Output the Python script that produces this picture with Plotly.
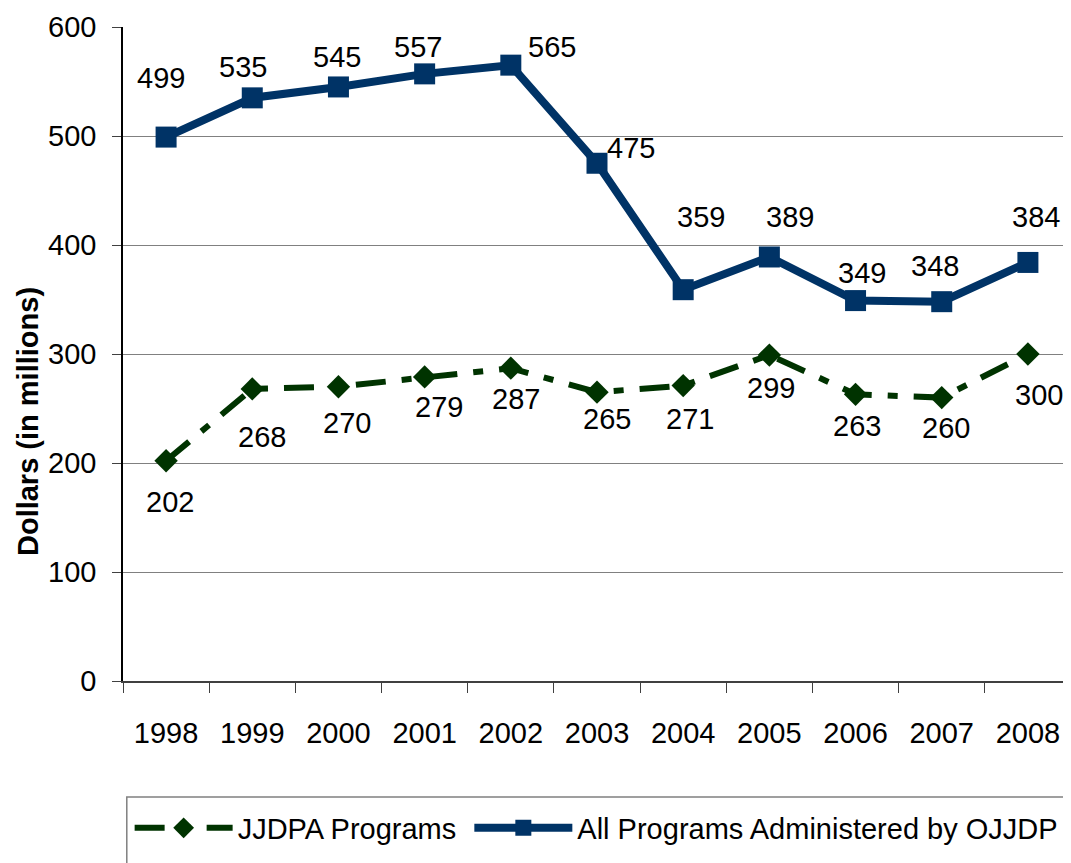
import plotly.graph_objects as go

years = ["1998", "1999", "2000", "2001", "2002", "2003", "2004", "2005", "2006", "2007", "2008"]
jjdpa = [202, 268, 270, 279, 287, 265, 271, 299, 263, 260, 300]
all_programs = [499, 535, 545, 557, 565, 475, 359, 389, 349, 348, 384]

# label offsets (px) to mimic the manual label placement of the original
blue_dx = [-5, -9, -1, -7, 41, 34, 18, 21, 6, -7, 8]
blue_dy = [59, 31, 30, 27, 18, 15, 73, 40, 28, 36, 45]
green_dx = [4, 10, 9, 14, 5, 10, 7, 2, 1, 4, 11]
green_dy = [-41, -48, -36, -30, -31, -27, -33, -33, -32, -30, -41]

BLUE = "#003366"
GREEN = "#003300"
FONT = "Liberation Sans, Arial, sans-serif"
FS = 29

fig = go.Figure()
fig.add_trace(go.Scatter(
    x=years, y=jjdpa, name="JJDPA Programs\u00a0", mode="lines+markers",
    line=dict(color=GREEN, width=6, dash="30px,16px,10px,16px"),
    marker=dict(symbol="diamond", size=18, color=GREEN),
))
fig.add_trace(go.Scatter(
    x=years, y=all_programs, name="All Programs Administered by OJJDP",
    mode="lines+markers",
    line=dict(color=BLUE, width=8),
    marker=dict(symbol="square", size=21, color=BLUE),
))

annotations = []
for i, (v, dx, dy) in enumerate(zip(all_programs, blue_dx, blue_dy)):
    annotations.append(dict(x=i, y=v, xref="x", yref="y", text=str(v), showarrow=False,
                            xanchor="center", yanchor="middle",
                            xshift=dx, yshift=dy, font=dict(size=FS, color="black", family=FONT)))
for i, (v, dx, dy) in enumerate(zip(jjdpa, green_dx, green_dy)):
    annotations.append(dict(x=i, y=v, xref="x", yref="y", text=str(v), showarrow=False,
                            xanchor="center", yanchor="middle",
                            xshift=dx, yshift=dy, font=dict(size=FS, color="black", family=FONT)))
annotations.append(dict(x=-0.1002, y=0.396, xref="paper", yref="paper", text="<b>Dollars (in millions)</b>",
                        textangle=-90, showarrow=False, xanchor="center", yanchor="middle",
                        font=dict(size=29, color="black", family=FONT)))

fig.update_layout(
    width=1063, height=855,
    margin=dict(l=115, r=0, t=19, b=182, autoexpand=False),
    paper_bgcolor="white", plot_bgcolor="white",
    font=dict(family=FONT, size=FS, color="black"),
    showlegend=True,
    legend=dict(orientation="h", x=0.007, xanchor="left", y=-0.2248, yanchor="middle",
                font=dict(size=29, family=FONT, color="black"),
                itemwidth=98, bgcolor="rgba(0,0,0,0)", traceorder="normal"),
    annotations=annotations,
    shapes=[dict(type="rect", xref="paper", yref="paper", x0=0.004, x1=1.02, y0=-0.1774, y1=-0.35,
                 line=dict(color="#808080", width=1.5), fillcolor="rgba(0,0,0,0)")],
    xaxis=dict(type="category", range=[-0.5, 10.5], showgrid=False, showline=True,
               linecolor="#404040", linewidth=1.5,
               ticks="outside", tickson="boundaries", ticklen=10, tickcolor="#404040",
               tickfont=dict(size=FS), tickangle=0, ticklabelstandoff=25, zeroline=False),
    yaxis=dict(range=[0, 600], dtick=100, showgrid=True, gridcolor="#808080", gridwidth=1,
               showline=True, linecolor="black", linewidth=1.5, ticks="outside", ticklen=9,
               tickcolor="#404040", tickfont=dict(size=FS), ticklabelstandoff=10, zeroline=False),
)

fig.write_html("out.html")
